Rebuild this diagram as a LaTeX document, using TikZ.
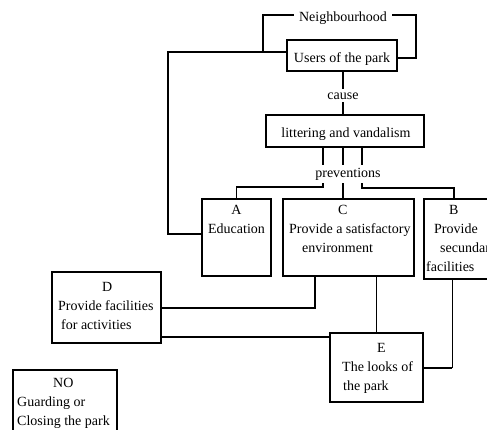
\documentclass[tikz,border=0pt]{standalone}
\usepackage{fontspec}
\setmainfont{Liberation Serif}
\usetikzlibrary{fit}
\begin{document}
\begin{tikzpicture}[x=1pt,y=-1pt,
  box/.style={draw, line width=1.1pt, inner sep=0pt, outer sep=0pt},
  txt/.style={inner sep=0pt, font=\fontsize{14}{19}\selectfont},
  lbl/.style={txt, inner xsep=5pt, inner ysep=3pt},
  wire/.style={line width=1.1pt},
  thinwire/.style={line width=0.7pt}]
\clip (0,0) rectangle (487,429);

% boxes
\node[box, fit={(287,40) (397,71)}] (U) {};
\node[box, fit={(266,115) (424,147)}] (L) {};
\node[box, fit={(202,199) (271,276)}] (A) {};
\node[box, fit={(283,199) (414,276)}] (C) {};
\node[box, fit={(424,199) (505,279)}] (B) {};
\node[box, fit={(52,272) (161,343)}] (D) {};
\node[box, fit={(330,333) (423,402)}] (E) {};
\node[box, fit={(13,370) (117,440)}] (NO) {};

% texts
\node[txt, anchor=base] (Ut) at (342,62) {Users of the park};
\node[txt, anchor=base] (Lt) at (346,137) {littering and vandalism};
\node[lbl, anchor=base] (Nb) at (343,21.5) {Neighbourhood};
\node[lbl, anchor=base] (cause) at (343,99) {cause};
\node[lbl, anchor=base] (prev) at (348,177) {preventions};
\node[txt, anchor=north, align=center] (At) at (236.5,205.5) {A\\Education};
\node[txt, anchor=north west, align=left] (Ct) at (289,205.5)
  {\hspace*{49pt}C\\Provide a satisfactory\\\hspace*{13pt}environment};
\node[txt, anchor=north west, align=left] (Bt) at (434,205.5)
  {\hspace*{15pt}B\\Provide\\\hspace*{6pt}secundary\\\hspace*{-8pt}facilities};
\node[txt, anchor=north west, align=left] (Dt) at (58,282.5)
  {\hspace*{44pt}D\\Provide facilities\\\hspace*{3pt}for activities};
\node[txt, anchor=north west, align=left] (Et) at (342,343.5)
  {\hspace*{35pt}E\\The looks of\\\hspace*{1pt}the park};
\node[txt, anchor=north west, align=left] (NOt) at (17,378.5)
  {\hspace*{36pt}NO\\Guarding or\\Closing the park};

% bend points
\coordinate (nl) at (263,15);
\coordinate (nr) at (416,15);
\coordinate (ur) at (416,58);
\coordinate (ul) at (168,52);
\coordinate (al) at (168,234);
\coordinate (cx) at (343,0);
\coordinate (pa) at (323,187);
\coordinate (pc) at (343,0);
\coordinate (pb) at (362,188);
\coordinate (pb2) at (454,188);
\coordinate (dc) at (315,308);
\coordinate (de) at (330,337);
\coordinate (be) at (452,368);

% neighbourhood bracket
\draw[wire] (nl -| Nb.west) -- (nl) -- (nl |- ul);
\draw[wire] (nr -| Nb.east) -- (nr) -- (ur) -- (ur -| U.east);
% users to education
\draw[wire] (ul -| U.west) -- (ul) -- (al) -- (al -| A.west);
% cause
\draw[wire] (U.south -| cx) -- (cause.north -| cx);
\draw[wire] (cause.south -| cx) -- (L.north -| cx);
% preventions
\draw[wire] (L.south -| pa) -- (prev.north -| pa);
\draw[wire] (prev.south -| pa) -- (pa) -| (A.north);
\draw[wire] (L.south -| pc) -- (prev.north -| pc);
\draw[wire] (prev.south -| pc) -- (C.north -| pc);
\draw[wire] (L.south -| pb) -- (prev.north -| pb);
\draw[wire] (prev.south -| pb) -- (pb) -- (pb2) -- (pb2 |- B.north);
% lower links
\draw[wire] (D.east |- dc) -- (dc) -- (dc |- C.south);
\draw[wire] (D.east |- de) -- (de -| E.west);
\draw[thinwire] (C.south -| E.north) -- (E.north);
\draw[thinwire] (B.south -| be) -- (be);
\draw[wire] (be) -- (be -| E.east);
\end{tikzpicture}
\end{document}
